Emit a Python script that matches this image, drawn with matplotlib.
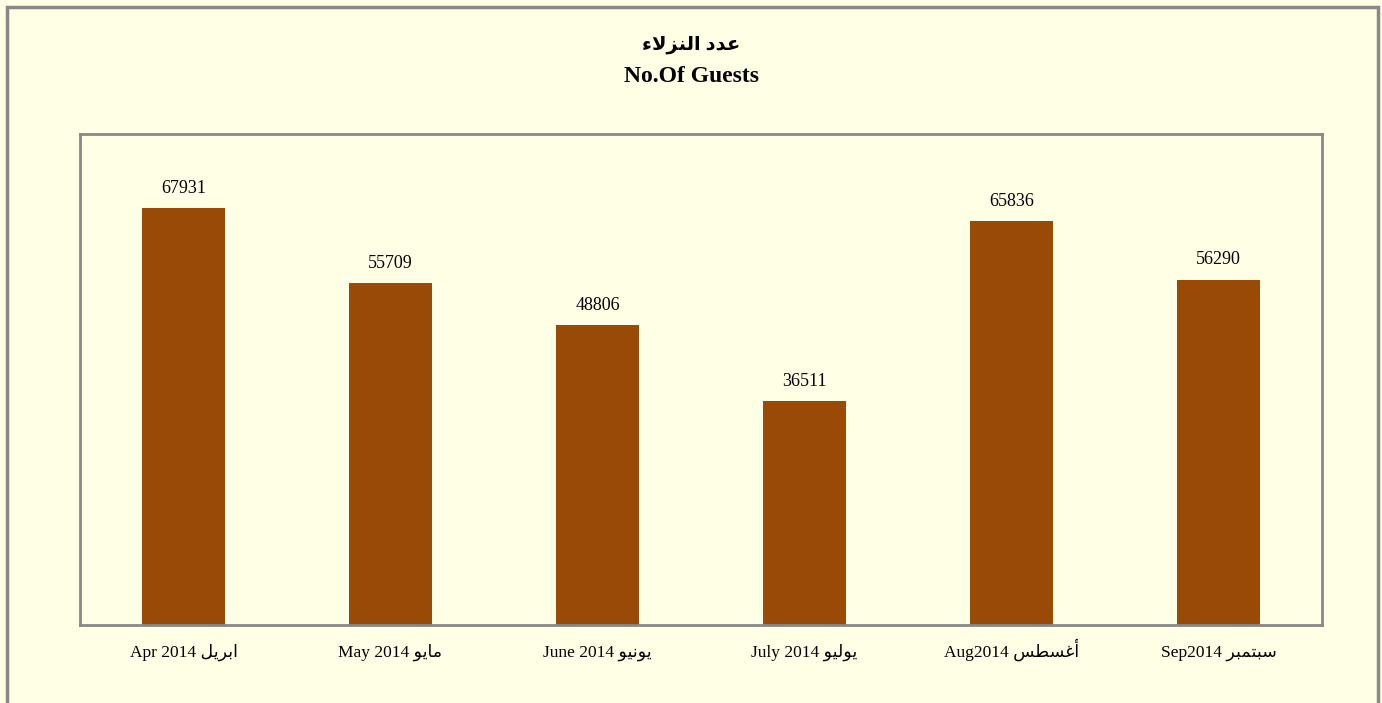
import numpy as np
import matplotlib.pyplot as plt
from matplotlib.patches import Rectangle

months_en = ['Apr 2014', 'May 2014', 'June 2014', 'July 2014', 'Aug2014', 'Sep2014']
months_ar = ['ابريل', 'مايو', 'يونيو', 'يوليو', 'أغسطس', 'سبتمبر']
guests = [67931, 55709, 48806, 36511, 65836, 56290]

title_ar = 'عدد النزلاء'
title_en = 'No.Of Guests'

# arabic presentation forms: (isolated, final, initial, medial)
# right-joining letters only have (isolated, final)
FORMS = {
    'ا': ('\uFE8D', '\uFE8E'),
    'أ': ('\uFE83', '\uFE84'),
    'د': ('\uFEA9', '\uFEAA'),
    'ر': ('\uFEAD', '\uFEAE'),
    'ز': ('\uFEAF', '\uFEB0'),
    'و': ('\uFEED', '\uFEEE'),
    'LA': ('\uFEFB', '\uFEFC'),
    'ء': ('\uFE80', '\uFE80'),
    'ب': ('\uFE8F', '\uFE90', '\uFE91', '\uFE92'),
    'ت': ('\uFE95', '\uFE96', '\uFE97', '\uFE98'),
    'س': ('\uFEB1', '\uFEB2', '\uFEB3', '\uFEB4'),
    'ط': ('\uFEC1', '\uFEC2', '\uFEC3', '\uFEC4'),
    'ع': ('\uFEC9', '\uFECA', '\uFECB', '\uFECC'),
    'غ': ('\uFECD', '\uFECE', '\uFECF', '\uFED0'),
    'ل': ('\uFEDD', '\uFEDE', '\uFEDF', '\uFEE0'),
    'م': ('\uFEE1', '\uFEE2', '\uFEE3', '\uFEE4'),
    'ن': ('\uFEE5', '\uFEE6', '\uFEE7', '\uFEE8'),
    'ي': ('\uFEF1', '\uFEF2', '\uFEF3', '\uFEF4'),
}


def shape(text):
    toks = []
    i = 0
    while i < len(text):
        if text[i] == 'ل' and i + 1 < len(text) and text[i + 1] in 'اأ':
            toks.append('LA')
            i += 2
        else:
            toks.append(text[i])
            i += 1

    def dual(t):
        return t in FORMS and len(FORMS[t]) == 4

    def joinable(t):
        return t in FORMS and t != 'ء'

    out = []
    for k, t in enumerate(toks):
        if t not in FORMS:
            out.append(t)
            continue
        f = FORMS[t]
        jp = k > 0 and dual(toks[k - 1]) and t != 'ء'
        jn = dual(t) and k + 1 < len(toks) and joinable(toks[k + 1])
        if jp and jn:
            out.append(f[3])
        elif jn:
            out.append(f[2])
        elif jp:
            out.append(f[1])
        else:
            out.append(f[0])
    return ''.join(out[::-1])


bg = '#FFFFE6'
bar_color = '#994A06'
frame_color = '#888888'
fonts = ['Liberation Serif', 'DejaVu Sans']

fig = plt.figure(figsize=(13.82, 7.03), dpi=100, facecolor=bg)
ax = fig.add_axes([80 / 1382, 78 / 703, 1242 / 1382, 491 / 703])
ax.set_facecolor(bg)

x = np.arange(len(guests))
bars = ax.bar(x, guests, width=0.4, color=bar_color, zorder=2)
ax.set_xlim(-0.5, len(guests) - 0.5)
ax.set_ylim(0, 80000)

for xi, v in zip(x, guests):
    ax.text(xi, v + 1800, str(v), ha='center', va='bottom', fontsize=13, family=fonts)

labels = [en + ' ' + shape(ar) for en, ar in zip(months_en, months_ar)]
ax.set_xticks(x)
ax.set_xticklabels(labels, fontsize=12.5, family=fonts, va='baseline')
ax.tick_params(axis='x', length=0, pad=23)
ax.set_yticks([])

for s in ax.spines.values():
    s.set_color(frame_color)
    s.set_linewidth(2)

fig.text(0.5, 1 - 45 / 703, shape(title_ar), ha='center', va='center',
         fontsize=14, fontweight='bold', family=fonts)
fig.text(0.5, 1 - 77 / 703, title_en, ha='center', va='center',
         fontsize=17, fontweight='bold', family=fonts)

# outer border
fig.patches.append(Rectangle((7 / 1382, -0.02), 1371 / 1382, 1 - 7 / 703 + 0.02,
                             transform=fig.transFigure, fill=False,
                             edgecolor=frame_color, linewidth=2.5))

plt.savefig('out.png', dpi=100, facecolor=bg)
